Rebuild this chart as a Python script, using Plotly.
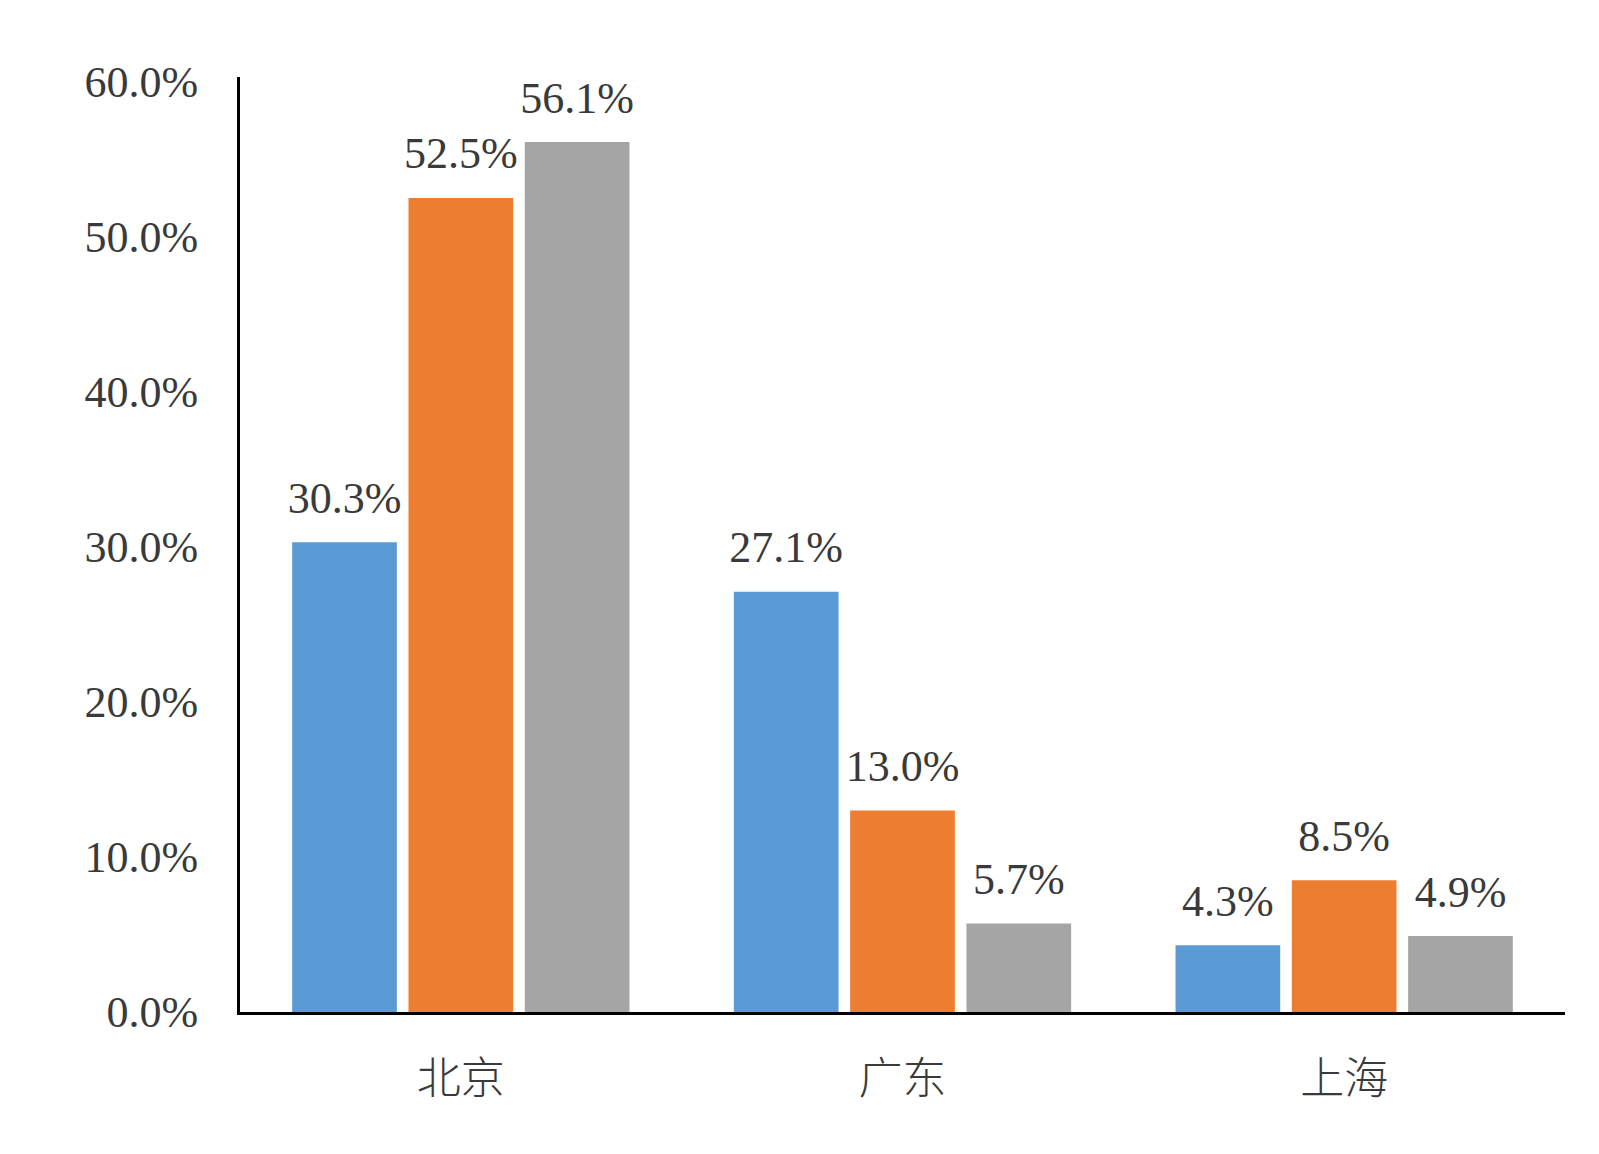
import plotly.graph_objects as go

# Dados do gráfico
regioes = ["北京", "广东", "上海"]
serie_a = [30.3, 27.1, 4.3]
serie_b = [52.5, 13.0, 8.5]
serie_c = [56.1, 5.7, 4.9]
y_ticks = [0, 10, 20, 30, 40, 50, 60]
y_tick_text = ["0.0%", "10.0%", "20.0%", "30.0%", "40.0%", "50.0%", "60.0%"]

cores = ["#5B9BD5", "#ED7D31", "#A5A5A5"]
fonte = "Liberation Serif, Times New Roman, Noto Sans CJK SC, serif"
cor_texto = "#3a3a3a"

fig = go.Figure()
series = [serie_a, serie_b, serie_c]

# Barras
for i, (valores, cor) in enumerate(zip(series, cores)):
    fig.add_trace(
        go.Bar(x=regioes,
            y=valores,
            name=f"s{i}",
            marker=dict(color=cor, line=dict(width=0)),
            hoverinfo="skip")
    )

# Rótulos acima das barras (scatter agrupado para controlar o afastamento)
for i, valores in enumerate(series):
    fig.add_trace(
        go.Scatter(x=regioes,
            y=valores,
            mode="markers+text",
            marker=dict(size=28, color="rgba(0,0,0,0)"),
            text=[f"{v:.1f}%" for v in valores],
            textposition="top center",
            cliponaxis=False,
            hoverinfo="skip",
            textfont=dict(family=fonte, size=44, color=cor_texto))
    )

# a página tem margem de 8px no body: compensado no tamanho e nas margens
fig.update_layout(
    width=1591, height=1146,
    margin=dict(l=232, r=34, t=69, b=142),
    paper_bgcolor="white", plot_bgcolor="white",
    barmode="group", bargap=0.21, bargroupgap=0.1,
    scattermode="group", scattergap=0.21,
    showlegend=False,
    font=dict(family=fonte, color=cor_texto),
)

fig.update_yaxes(range=[0, 60.3], tickvals=y_ticks, ticktext=y_tick_text,
    showgrid=False, zeroline=False,
    showline=True, linecolor="black", linewidth=3,
    ticks="", ticklabelstandoff=30,
    tickfont=dict(family=fonte, size=44, color=cor_texto))

fig.update_xaxes(showgrid=False, showline=True, linecolor="black", linewidth=3,
    ticks="", ticklabelstandoff=26,
    tickfont=dict(family="Noto Sans CJK SC, serif", size=44, color=cor_texto, weight=300))

fig.write_html("out.html")
